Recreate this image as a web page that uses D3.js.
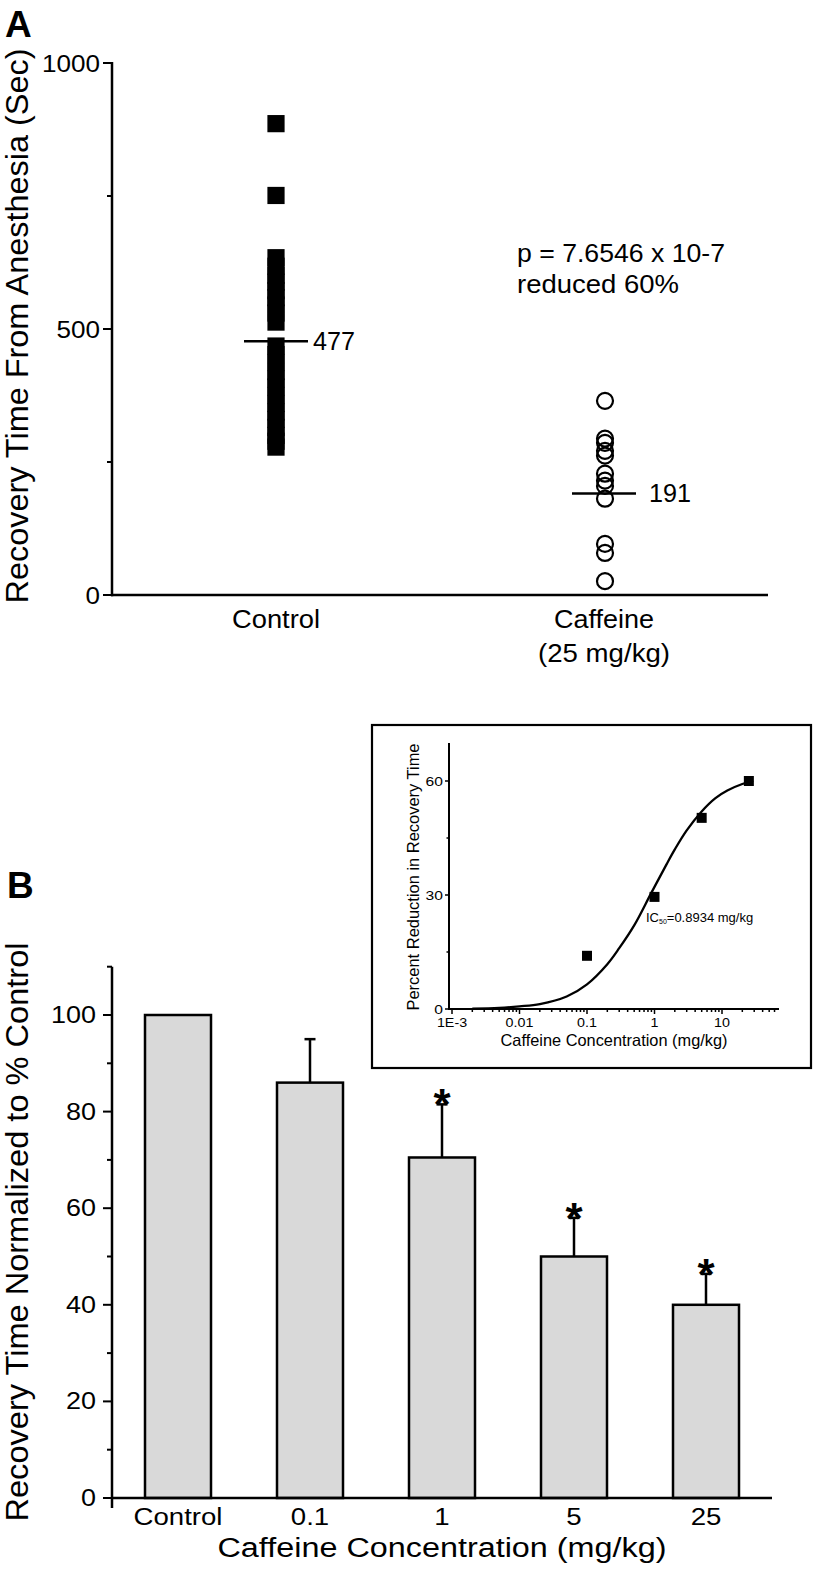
<!DOCTYPE html>
<html><head><meta charset="utf-8">
<script src="https://cdn.jsdelivr.net/npm/d3@7"></script>
<style>html,body{margin:0;padding:0;background:#fff}svg{display:block}text{font-family:Arial,"Liberation Sans",sans-serif;fill:#000}</style>
</head><body>
<script>
// ---------- DATA ----------
const groupNames = ["Control", "Caffeine"];
const controlTimes = [886, 751, 634, 618, 601, 588, 572, 559, 545, 530, 513, 468, 452, 437, 420, 406, 391, 375, 360, 344, 330, 315, 300, 289, 278];
const caffeineTimes = [365, 294, 286, 271, 262, 228, 215, 205, 181, 96, 79, 26];
const groupMeans = [477, 191];
const yTicksA = [0, 500, 1000];
const yMinorA = [250, 750];

const doseLabels = ["Control", "0.1", "1", "5", "25"];
const normMeans = [100, 86, 70.5, 50, 40];
const normErrors = [0, 9, 11, 8, 6.4];
const significant = [false, false, true, true, true];
const yTicksB = [0, 20, 40, 60, 80, 100];
const yMinorB = [10, 30, 50, 70, 90, 110];

const insetDose = [0.1, 1, 5, 25];
const insetReduction = [14, 29.5, 50.3, 60];
const fitDose = [0.002, 0.005, 0.01, 0.02, 0.05, 0.1, 0.2, 0.3, 0.5, 0.8934, 1.5, 2, 3, 5, 8, 12, 20, 29];
const fitReduction = [0.1, 0.3, 0.7, 1.3, 3.3, 6.5, 11.8, 16, 22, 30.5, 38, 42, 47, 52, 55.5, 57.5, 59.2, 60];
const insetXTicks = [0.001, 0.01, 0.1, 1, 10];
const insetXTickLabels = ["1E-3", "0.01", "0.1", "1", "10"];
const insetYTicks = [0, 30, 60];
const insetYMinor = [15, 45];

// ---------- SETUP ----------
const W = 815, H = 1570;
const svg = d3.select("body").append("svg").attr("width", W).attr("height", H);

// text helper: when a target width (or stretch k) is given, the text is laid out
// start-anchored at the position the requested anchor implies, then stretched.
function txt(g, s, x, y, o = {}) {
  const t = g.append("text").attr("x", x).attr("y", y)
    .attr("font-size", o.size || 24)
    .attr("font-weight", o.weight || "normal")
    .attr("text-anchor", "start")
    .text(s);
  const anchor = o.anchor || "start";
  let w = null;
  if (o.width) w = o.width;
  else if (o.k) w = t.node().getComputedTextLength() * o.k;
  if (w !== null) {
    const x0 = anchor === "end" ? x - w : anchor === "middle" ? x - w / 2 : x;
    t.attr("x", x0).attr("textLength", w).attr("lengthAdjust", "spacingAndGlyphs");
  } else {
    t.attr("text-anchor", anchor);
  }
  if (o.rotate) t.attr("transform", `rotate(-90,${x},${y})`);
  return t;
}
function line(g, x1, y1, x2, y2, w = 2.5) {
  return g.append("line").attr("x1", x1).attr("y1", y1).attr("x2", x2).attr("y2", y2)
    .attr("stroke", "#000").attr("stroke-width", w);
}

// ---------- PANEL A ----------
const gA = svg.append("g");
const yA = d3.scaleLinear().domain([0, 1000]).range([595, 63]);
const xA = d3.scalePoint().domain(groupNames).range([112, 768]).padding(0.5);

txt(gA, "A", 5, 37, {size: 37, weight: "bold"});
line(gA, 112, yA(1000) - 1, 112, yA(0) + 1.2);
line(gA, 111, yA(0), 768, yA(0));
yTicksA.forEach(v => {
  line(gA, 103, yA(v), 112, yA(v), 2);
  txt(gA, String(v), 100, yA(v) + 8.5, {size: 24, anchor: "end", width: String(v).length * 14.5});
});
yMinorA.forEach(v => line(gA, 107, yA(v), 112, yA(v), 2));
txt(gA, "Recovery Time From Anesthesia (Sec)", 28, 326, {size: 32, anchor: "middle", rotate: true, width: 555});

gA.selectAll("rect.ctl").data(controlTimes).enter().append("rect")
  .attr("x", xA("Control") - 8.6).attr("y", d => yA(d) - 8.6)
  .attr("width", 17.2).attr("height", 17.2).attr("fill", "#000");
gA.selectAll("circle.caf").data(caffeineTimes).enter().append("circle")
  .attr("cx", xA("Caffeine") + 1).attr("cy", d => yA(d)).attr("r", 8)
  .attr("fill", "none").attr("stroke", "#000").attr("stroke-width", 2.2);
groupNames.forEach((g, i) => {
  const cx = xA(g);
  line(gA, cx - 32, yA(groupMeans[i]), cx + 32, yA(groupMeans[i]), 2.5);
  txt(gA, String(groupMeans[i]), cx + (i === 0 ? 37 : 45), yA(groupMeans[i]) + 9, {size: 25, width: 42});
});
txt(gA, "Control", xA("Control"), 628, {size: 25, anchor: "middle", width: 88});
txt(gA, "Caffeine", xA("Caffeine"), 628, {size: 25, anchor: "middle", width: 100});
txt(gA, "(25 mg/kg)", xA("Caffeine"), 662, {size: 25, anchor: "middle", width: 132});
txt(gA, "p = 7.6546 x 10-7", 517, 262, {size: 25, width: 208});
txt(gA, "reduced 60%", 517, 293, {size: 25, width: 162});

// ---------- PANEL B ----------
const gB = svg.append("g");
const yB = d3.scaleLinear().domain([0, 110]).range([1498, 1498 - 110 * 4.83]);
const xB = d3.scaleBand().domain(doseLabels).range([112, 772]).paddingInner(0.5).paddingOuter(0.25);

txt(gB, "B", 7, 898, {size: 37, weight: "bold"});

gB.selectAll("rect.bar").data(doseLabels).enter().append("rect")
  .attr("x", d => xB(d)).attr("y", (d, i) => yB(normMeans[i]))
  .attr("width", xB.bandwidth()).attr("height", (d, i) => yB(0) - yB(normMeans[i]))
  .attr("fill", "#d9d9d9").attr("stroke", "#000").attr("stroke-width", 2.5);
doseLabels.forEach((d, i) => {
  if (!normErrors[i]) return;
  const cx = xB(d) + xB.bandwidth() / 2;
  const top = yB(normMeans[i] + normErrors[i]);
  line(gB, cx, yB(normMeans[i]), cx, top, 2.5);
  line(gB, cx - 5.5, top, cx + 5.5, top, 2.5);
  if (significant[i]) txt(gB, "*", cx, top + 16, {size: 44, anchor: "middle", weight: "bold"});
});
line(gB, 112, yB(110), 112, yB(0) + 10);
line(gB, 111, yB(0), 772, yB(0));
yTicksB.forEach(v => {
  line(gB, 103, yB(v), 112, yB(v), 2);
  txt(gB, String(v), 96, yB(v) + 8, {size: 23, anchor: "end", width: String(v).length * 15});
});
yMinorB.forEach(v => line(gB, 107, yB(v), 112, yB(v), 2));
doseLabels.forEach(d => txt(gB, d, xB(d) + xB.bandwidth() / 2, 1525, {size: 23, anchor: "middle", k: 1.2}));
txt(gB, "Caffeine Concentration (mg/kg)", 442, 1557, {size: 27, anchor: "middle", width: 449});
txt(gB, "Recovery Time Normalized to % Control", 28, 1232, {size: 32, anchor: "middle", rotate: true, width: 579});

// ---------- INSET ----------
const gI = svg.append("g");
gI.append("rect").attr("x", 372).attr("y", 725).attr("width", 439).attr("height", 343)
  .attr("fill", "#fff").attr("stroke", "#000").attr("stroke-width", 2.2);
const xI = d3.scaleLog().domain([0.001, Math.pow(10, (779 - 452) / 67.5 - 3)]).range([452, 779]);
const yI = d3.scaleLinear().domain([0, 70]).range([1009, 743]);

line(gI, 449, yI(70), 449, yI(0) + 1, 2);
line(gI, 448, yI(0), 779, yI(0), 2);
insetYTicks.forEach(v => {
  line(gI, 445, yI(v), 449, yI(v), 1.5);
  txt(gI, String(v), 443, yI(v) + 4.5, {size: 13, anchor: "end", k: 1.2});
});
insetYMinor.forEach(v => line(gI, 446.5, yI(v), 449, yI(v), 1.5));
const minorX = [];
for (let e = -3; e <= 1; e++) for (let m = 2; m <= 9; m++) {
  const v = m * Math.pow(10, e);
  if (v < xI.domain()[1]) minorX.push(v);
}
minorX.forEach(v => line(gI, xI(v), yI(0), xI(v), yI(0) + 3, 1.5));
insetXTicks.forEach((v, i) => {
  line(gI, xI(v), yI(0), xI(v), yI(0) + 5, 1.5);
  txt(gI, insetXTickLabels[i], xI(v), 1027, {size: 13, anchor: "middle", k: 1.1});
});
txt(gI, "Caffeine Concentration (mg/kg)", 614, 1046, {size: 16.5, anchor: "middle", width: 227});
txt(gI, "Percent Reduction in Recovery Time", 419, 877, {size: 16.5, anchor: "middle", rotate: true, width: 267});

const fitPts = fitDose.map((d, i) => [xI(d), yI(fitReduction[i])]);
gI.append("path").attr("d", d3.line().curve(d3.curveCatmullRom.alpha(0.5))(fitPts))
  .attr("fill", "none").attr("stroke", "#000").attr("stroke-width", 2.3);
gI.selectAll("rect.pt").data(insetDose).enter().append("rect")
  .attr("x", d => xI(d) - 5).attr("y", (d, i) => yI(insetReduction[i]) - 5)
  .attr("width", 10).attr("height", 10).attr("fill", "#000");
const ic = gI.append("text").attr("x", 646).attr("y", 922).attr("font-size", 13);
ic.append("tspan").text("IC");
ic.append("tspan").attr("font-size", 7).attr("dy", 2).text("50");
ic.append("tspan").attr("dy", -2).text("=0.8934 mg/kg");
</script>
</body></html>
